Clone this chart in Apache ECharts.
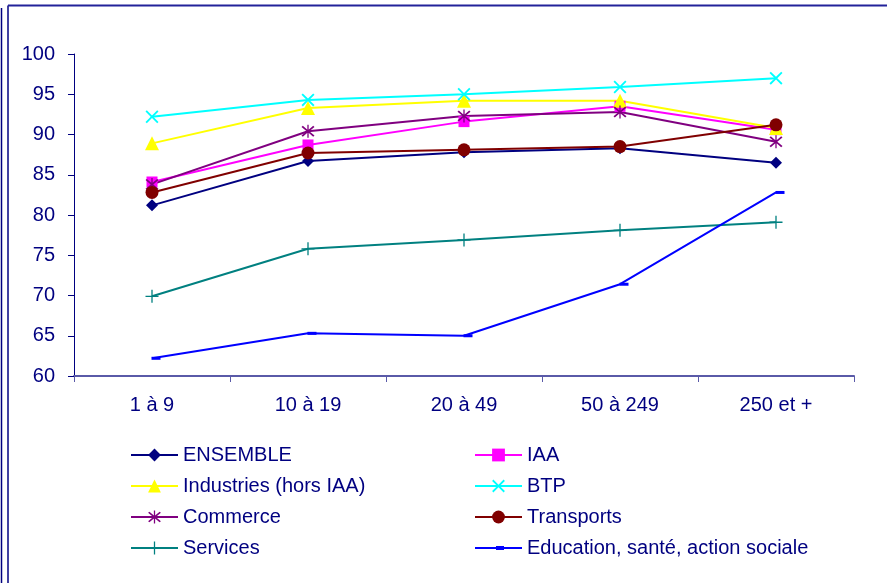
<!DOCTYPE html>
<html>
<head>
<meta charset="utf-8">
<script src="https://cdn.jsdelivr.net/npm/echarts@6/dist/echarts.min.js"></script>
<style>
  html, body { margin: 0; padding: 0; background: #fff; }
  #chart { width: 887px; height: 583px; }
</style>
</head>
<body>
<div id="chart"></div>
<script>
// categories (taille d'entreprise)
var categories = ["1 à 9", "10 à 19", "20 à 49", "50 à 249", "250 et +"];

// valeurs
var ensemble = [81.2, 86.7, 87.8, 88.3, 86.5];
var iaa = [84.1, 88.7, 91.6, 93.5, 90.6];
var industries = [88.9, 93.3, 94.2, 94.2, 90.8];
var btp = [92.2, 94.3, 95.0, 95.9, 97.0];
var commerce = [83.8, 90.4, 92.3, 92.8, 89.1];
var transports = [82.8, 87.7, 88.1, 88.5, 91.2];
var services = [69.9, 75.8, 76.9, 78.1, 79.1];
var education = [62.2, 65.3, 65.0, 71.4, 82.8];

var yTicks = { min: 60, max: 100, step: 5 };

var navy = "#000080";
var font = "Liberation Sans, Arial, sans-serif";

// symboles façon Excel
var symX = "path://M2,0 L10,8 L18,0 L20,2 L12,10 L20,18 L18,20 L10,12 L2,20 L0,18 L8,10 L0,2 Z";
var symStar = "path://M2,0 L10,8 L18,0 L20,2 L12,10 L20,18 L18,20 L10,12 L2,20 L0,18 L8,10 L0,2 Z M9,-2 L11,-2 L11,22 L9,22 Z";
var symPlus = "path://M9,0 L11,0 L11,9 L20,9 L20,11 L11,11 L11,20 L9,20 L9,11 L0,11 L0,9 L9,9 Z";
// icône de légende : trait + petit tiret
var iconDash = "path://M0,1 L47,1 L47,3 L0,3 Z M21,0 L29,0 L29,4 L21,4 Z";

function serie(name, data, color, symbol, size, extra) {
  var s = {
    name: name,
    type: "line",
    data: data,
    symbol: symbol,
    symbolSize: size,
    itemStyle: { color: color },
    lineStyle: { color: color, width: 2 },
    emphasis: { disabled: true },
    animation: false
  };
  if (extra) Object.assign(s, extra);
  return s;
}

var legendBase = {
  top: 445,
  orient: "vertical",
  padding: 0,
  itemWidth: 47,
  itemHeight: 16,
  itemGap: 11,
  textStyle: { color: navy, fontSize: 20, fontFamily: font }
};

var myChart = echarts.init(document.getElementById("chart"));
myChart.setOption({
  textStyle: { fontFamily: font },
  grid: { left: 74, right: 33, top: 54, bottom: 207 },
  xAxis: {
    type: "category",
    data: categories,
    boundaryGap: true,
    axisLine: { lineStyle: { color: "#5a5aa8", width: 2 } },
    axisTick: { show: true, length: 6, lineStyle: { color: "#5a5aa8" } },
    axisLabel: { color: navy, fontSize: 20, margin: 19, fontFamily: font }
  },
  yAxis: {
    type: "value",
    min: yTicks.min,
    max: yTicks.max,
    interval: yTicks.step,
    axisLine: { show: true, lineStyle: { color: navy, width: 1 } },
    axisTick: { show: true, length: 6, lineStyle: { color: navy } },
    axisLabel: { color: navy, fontSize: 20, margin: 19, fontFamily: font },
    splitLine: { show: false }
  },
  legend: [
    Object.assign({}, legendBase, {
      left: 130,
      data: ["ENSEMBLE", "Industries (hors IAA)", "Commerce", "Services"]
    }),
    Object.assign({}, legendBase, {
      left: 474,
      data: ["IAA", "BTP", "Transports", { name: "Education, santé, action sociale", icon: iconDash }]
    })
  ],
  graphic: [
    { type: "line", shape: { x1: 1.5, y1: 8, x2: 1.5, y2: 583 }, style: { stroke: navy, lineWidth: 1.5 } },
    { type: "line", shape: { x1: 8, y1: 5.5, x2: 8, y2: 583 }, style: { stroke: navy, lineWidth: 1.5 } },
    { type: "line", shape: { x1: 8, y1: 5.5, x2: 887, y2: 5.5 }, style: { stroke: "#22229a", lineWidth: 2 } }
  ],
  series: [
    serie("ENSEMBLE", ensemble, navy, "diamond", 12),
    serie("IAA", iaa, "#ff00ff", "rect", 11),
    serie("Industries (hors IAA)", industries, "#ffff00", "triangle", 14),
    serie("BTP", btp, "#00ffff", symX, 13),
    serie("Commerce", commerce, "#800080", symStar, 13),
    serie("Transports", transports, "#800000", "circle", 13),
    serie("Services", services, "#008080", symPlus, 13),
    serie("Education, santé, action sociale", education, "#0000ff", "rect", [9, 3], { symbolOffset: [4, 0] })
  ]
});
</script>
</body>
</html>
